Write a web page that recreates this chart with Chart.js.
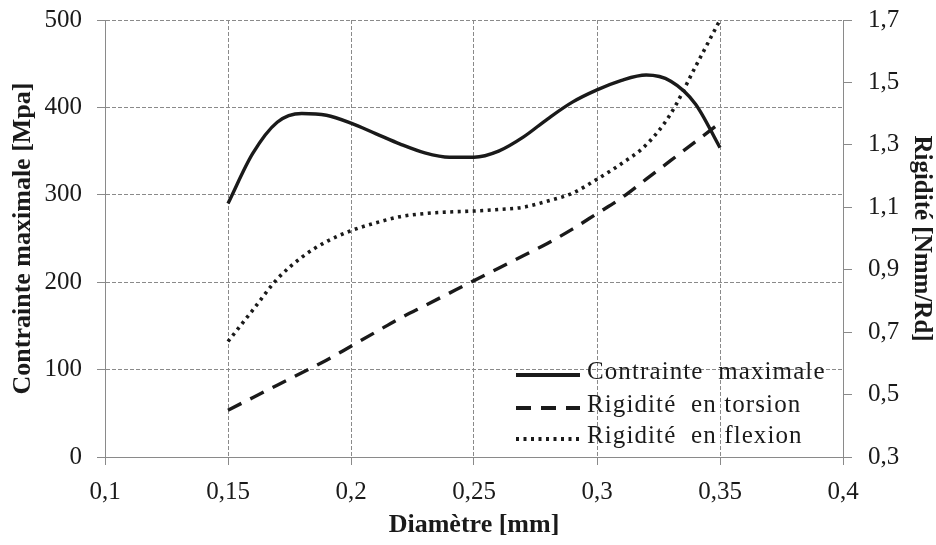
<!DOCTYPE html>
<html>
<head>
<meta charset="utf-8">
<script src="https://cdn.jsdelivr.net/npm/chart.js@4.4.0/dist/chart.umd.min.js"></script>
<style>
  html, body { margin: 0; padding: 0; background: #fff; }
  #wrap { width: 936px; height: 545px; }
</style>
</head>
<body>
<div id="wrap"><canvas id="chart" width="936" height="545"></canvas></div>
<script>
// Diamètre [mm]
const diametres = [0.15, 0.16, 0.17, 0.18, 0.19, 0.20, 0.21, 0.22, 0.23, 0.24, 0.25,
                   0.26, 0.27, 0.28, 0.29, 0.30, 0.31, 0.32, 0.33, 0.34, 0.35];
// Contrainte maximale [Mpa] (left axis)
const contrainte = [290, 347, 383, 393, 391, 382, 370, 358, 348, 343, 343,
                    350, 366, 387, 406, 420, 431, 437, 430, 404, 354];
// Rigidité en torsion [Nmm/Rd] (right axis)
const torsion = [0.45, 0.49, 0.53, 0.57, 0.61, 0.655, 0.70, 0.745, 0.785, 0.825, 0.865,
                 0.905, 0.945, 0.985, 1.03, 1.08, 1.13, 1.19, 1.25, 1.31, 1.37];
// Rigidité en flexion [Nmm/Rd] (right axis)
const flexion = [0.67, 0.77, 0.87, 0.94, 0.99, 1.025, 1.05, 1.07, 1.08, 1.085, 1.088,
                 1.093, 1.10, 1.12, 1.145, 1.19, 1.24, 1.30, 1.40, 1.55, 1.70];

const legendLabels = ['Contrainte  maximale', 'Rigidité  en torsion', 'Rigidité  en flexion'];

const FONT = '"Liberation Serif", "Times New Roman", serif';
const INK = '#1a1a1a';
const GRID = '#8a8a8a';

function toPoints(ys) {
  return diametres.map((d, i) => ({ x: d, y: ys[i] }));
}

// decimal comma like the original
function fmt(v) {
  return String(Number(v.toFixed(2))).replace('.', ',');
}

const styles = [
  { dash: [], width: 3.4 },
  { dash: [15, 10], width: 3.4 },
  { dash: [3, 4.5], width: 3.6 }
];

// legend drawn inside the plot, bottom right
const insideLegend = {
  id: 'insideLegend',
  afterDraw(chart) {
    const ctx = chart.ctx;
    const x0 = 516, x1 = 580, tx = 587;
    const rows = [372, 405, 436];
    ctx.save();
    rows.forEach((y, i) => {
      ctx.strokeStyle = INK;
      ctx.lineWidth = styles[i].width + 0.6;
      ctx.setLineDash(styles[i].dash);
      ctx.beginPath();
      ctx.moveTo(x0, y + 3);
      ctx.lineTo(x1, y + 3);
      ctx.stroke();
      ctx.setLineDash([]);
      ctx.fillStyle = INK;
      ctx.font = '25px ' + FONT;
      ctx.letterSpacing = '1.1px';
      ctx.textBaseline = 'middle';
      ctx.fillText(legendLabels[i], tx, y);
    });
    ctx.restore();
  }
};

// keep the plot box where the original has it
function fitY(width) {
  return s => { s.width = width; s.paddingTop = 0; s.paddingBottom = 0; };
}

new Chart(document.getElementById('chart'), {
  type: 'line',
  data: {
    datasets: [
      {
        label: legendLabels[0],
        data: toPoints(contrainte),
        yAxisID: 'y',
        borderColor: INK,
        borderWidth: styles[0].width,
        borderDash: styles[0].dash,
        pointRadius: 0,
        cubicInterpolationMode: 'monotone'
      },
      {
        label: legendLabels[1],
        data: toPoints(torsion),
        yAxisID: 'y1',
        borderColor: INK,
        borderWidth: styles[1].width,
        borderDash: styles[1].dash,
        pointRadius: 0,
        cubicInterpolationMode: 'monotone'
      },
      {
        label: legendLabels[2],
        data: toPoints(flexion),
        yAxisID: 'y1',
        borderColor: INK,
        borderWidth: styles[2].width,
        borderDash: styles[2].dash,
        pointRadius: 0,
        cubicInterpolationMode: 'monotone'
      }
    ]
  },
  options: {
    responsive: false,
    animation: false,
    layout: { padding: { top: 20, left: 0, right: 0, bottom: 0 } },
    plugins: {
      legend: { display: false },
      tooltip: { enabled: false }
    },
    scales: {
      x: {
        type: 'linear',
        min: 0.1,
        max: 0.4,
        afterFit: s => { s.height = 88; s.paddingLeft = 0; s.paddingRight = 0; },
        ticks: {
          stepSize: 0.05,
          color: INK,
          font: { family: FONT, size: 25 },
          padding: 12,
          callback: v => fmt(v)
        },
        grid: { color: GRID, tickLength: 8, tickColor: GRID, tickBorderDash: [] },
        border: { color: GRID, width: 1, dash: [4, 2] },
        title: {
          display: true,
          text: 'Diamètre [mm]',
          color: INK,
          font: { family: FONT, size: 26, weight: 'bold' },
          padding: { top: 2, bottom: 4 }
        }
      },
      y: {
        position: 'left',
        min: 0,
        max: 500,
        afterFit: fitY(105),
        ticks: {
          stepSize: 100,
          color: INK,
          font: { family: FONT, size: 25 },
          padding: 15
        },
        grid: { color: GRID, tickLength: 8, tickColor: GRID, tickBorderDash: [] },
        border: { color: GRID, width: 1, dash: [4, 2] },
        title: {
          display: true,
          text: 'Contrainte maximale [Mpa]',
          color: INK,
          font: { family: FONT, size: 26, weight: 'bold' },
          padding: { top: 8, bottom: 0 }
        }
      },
      y1: {
        position: 'right',
        min: 0.3,
        max: 1.7,
        afterFit: fitY(93),
        ticks: {
          stepSize: 0.2,
          color: INK,
          font: { family: FONT, size: 25 },
          padding: 16,
          callback: v => fmt(v)
        },
        grid: { drawOnChartArea: false, tickLength: 9, tickColor: GRID, tickBorderDash: [] },
        border: { color: GRID, width: 1 },
        title: {
          display: true,
          text: 'Rigidité [Nmm/Rd]',
          color: INK,
          font: { family: FONT, size: 25, weight: 'bold' },
          padding: { top: 0, bottom: 0 }
        }
      }
    }
  },
  plugins: [insideLegend]
});
</script>
</body>
</html>
